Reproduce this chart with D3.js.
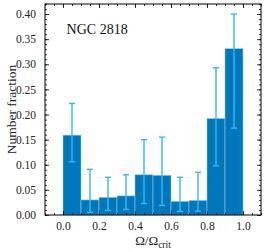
<!DOCTYPE html>
<html>
<head>
<meta charset="utf-8">
<script src="https://cdn.jsdelivr.net/npm/d3@7"></script>
<style>
  html, body { margin: 0; padding: 0; background: #fff; }
</style>
</head>
<body>
<div id="chart"></div>
<script>
// bin left edges of Omega/Omega_crit
const binStarts = [0.0, 0.1, 0.2, 0.3, 0.4, 0.5, 0.6, 0.7, 0.8, 0.9];
const binWidth = 0.1;
// number fraction per bin
const fraction = [0.159, 0.030, 0.035, 0.038, 0.080, 0.079, 0.027, 0.029, 0.192, 0.331];
// error bar lower / upper limits
const errLow  = [0.106, 0.005, 0.009, 0.011, 0.023, 0.019, 0.007, 0.008, 0.098, 0.173];
const errHigh = [0.222, 0.091, 0.075, 0.080, 0.150, 0.155, 0.075, 0.085, 0.293, 0.400];

const xTicks = [0.0, 0.2, 0.4, 0.6, 0.8, 1.0];
const yTicks = [0.00, 0.05, 0.10, 0.15, 0.20, 0.25, 0.30, 0.35, 0.40];
const clusterName = 'NGC 2818';

const FONT = '"Liberation Serif", "DejaVu Serif", serif';

const width = 266, height = 252;
const margin = {top: 4, right: 5, bottom: 37, left: 45};
const iw = width - margin.left - margin.right;
const ih = height - margin.top - margin.bottom;

const svg = d3.select('#chart').append('svg')
    .attr('width', width)
    .attr('height', height)
    .attr('font-family', FONT);

const g = svg.append('g')
    .attr('transform', `translate(${margin.left},${margin.top})`);

const x = d3.scaleLinear().domain([-0.1, 1.1]).range([0, iw]);
const y = d3.scaleLinear().domain([0, 0.42]).range([ih, 0]);

const barColor = '#0077bb';
const errColor = '#33bbee';

// bars
g.selectAll('rect.bar')
    .data(binStarts)
    .enter()
    .append('rect')
    .attr('class', 'bar')
    .attr('x', d => x(d))
    .attr('y', (d, i) => y(fraction[i]))
    .attr('width', d => x(d + binWidth) - x(d))
    .attr('height', (d, i) => y(0) - y(fraction[i]))
    .attr('fill', barColor)
    .attr('stroke', '#8cc6ea')
    .attr('stroke-width', 0.6);

// error bars
const err = g.selectAll('g.err')
    .data(binStarts)
    .enter()
    .append('g')
    .attr('class', 'err')
    .attr('stroke', errColor)
    .attr('stroke-width', 1.4);

const cx = d => x(d + binWidth / 2);
err.append('line')
    .attr('x1', cx).attr('x2', cx)
    .attr('y1', (d, i) => y(errLow[i]))
    .attr('y2', (d, i) => y(errHigh[i]));
err.append('line')
    .attr('x1', d => cx(d) - 3).attr('x2', d => cx(d) + 3)
    .attr('y1', (d, i) => y(errLow[i]))
    .attr('y2', (d, i) => y(errLow[i]));
err.append('line')
    .attr('x1', d => cx(d) - 3).attr('x2', d => cx(d) + 3)
    .attr('y1', (d, i) => y(errHigh[i]))
    .attr('y2', (d, i) => y(errHigh[i]));

// ticks on all sides, pointing inward
const xMinor = d3.range(-0.1, 1.1001, 0.05).map(v => +v.toFixed(2));
const yMinor = d3.range(0, 0.4201, 0.01).map(v => +v.toFixed(2));

function styleAxis(sel) {
    sel.attr('font-family', FONT).attr('font-size', 11.5);
    sel.select('.domain').remove();
    sel.selectAll('.tick line').attr('stroke', '#000').attr('stroke-width', 0.8);
    sel.selectAll('.tick text').attr('fill', '#222');
}

g.append('g').attr('transform', `translate(0,${ih})`)
    .call(d3.axisBottom(x).tickValues(xMinor).tickSize(-2).tickFormat(''))
    .call(styleAxis);
g.append('g').attr('transform', `translate(0,${ih})`)
    .call(d3.axisBottom(x).tickValues(xTicks).tickSize(-4).tickPadding(7).tickFormat(d3.format('.1f')))
    .call(styleAxis);
g.append('g')
    .call(d3.axisTop(x).tickValues(xMinor).tickSize(-2).tickFormat(''))
    .call(styleAxis);
g.append('g')
    .call(d3.axisTop(x).tickValues(xTicks).tickSize(-4).tickFormat(''))
    .call(styleAxis);

g.append('g')
    .call(d3.axisLeft(y).tickValues(yMinor).tickSize(-2).tickFormat(''))
    .call(styleAxis);
g.append('g')
    .call(d3.axisLeft(y).tickValues(yTicks).tickSize(-4).tickPadding(9).tickFormat(d3.format('.2f')))
    .call(styleAxis);
g.append('g').attr('transform', `translate(${iw},0)`)
    .call(d3.axisRight(y).tickValues(yMinor).tickSize(-2).tickFormat(''))
    .call(styleAxis);
g.append('g').attr('transform', `translate(${iw},0)`)
    .call(d3.axisRight(y).tickValues(yTicks).tickSize(-4).tickFormat(''))
    .call(styleAxis);

// frame
g.append('rect')
    .attr('width', iw).attr('height', ih)
    .attr('fill', 'none')
    .attr('stroke', '#000')
    .attr('stroke-width', 1);

// annotation
g.append('text')
    .attr('x', x(0.02))
    .attr('y', y(0.36))
    .attr('font-size', 14)
    .attr('fill', '#111')
    .text(clusterName);

// axis labels
const xl = svg.append('text')
    .attr('x', margin.left + x(0.5))
    .attr('y', 245)
    .attr('text-anchor', 'middle')
    .attr('font-size', 13)
    .attr('fill', '#222');
xl.append('tspan').text('Ω/Ω');
xl.append('tspan').attr('font-size', 9.5).attr('dy', 3).text('crit');

svg.append('text')
    .attr('transform', `translate(16,${margin.top + ih / 2}) rotate(-90)`)
    .attr('text-anchor', 'middle')
    .attr('font-size', 13.5)
    .attr('fill', '#222')
    .text('Number fraction');
</script>
</body>
</html>
